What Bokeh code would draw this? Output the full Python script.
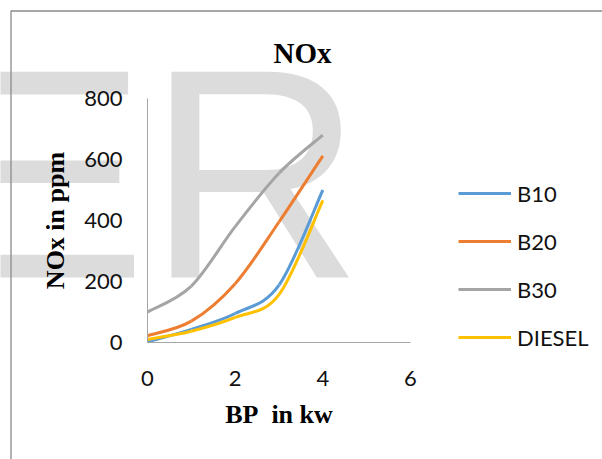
import numpy as np
from bokeh.plotting import figure
from bokeh.models import (Range1d, FixedTicker, Legend, LegendItem, Label,
                          PolyAnnotation, ColumnDataSource)
from bokeh.embed import file_html
from bokeh.resources import INLINE

# ---- data ----
bp = [0, 1, 2, 3, 4]
b10 = [2, 43, 95, 188, 500]
b20 = [22, 70, 193, 395, 612]
b30 = [100, 185, 380, 555, 680]
diesel = [10, 37, 82, 157, 466]
series_names = ["B10", "B20", "B30", "DIESEL"]
series_values = [b10, b20, b30, diesel]
colors = ["#5B9BD5", "#ED7D31", "#A5A5A5", "#FFC000"]
x_ticks = [0, 2, 4, 6]
y_ticks = [0, 200, 400, 600, 800]
x_min, x_max = 0, 6
y_min, y_max = 0, 800

# ---- layout (pixels) ----
W, H = 602, 459
PL, PR, PT, PB = 147, 410, 98, 342   # plotting area edges on the canvas
kx = (PR - PL) / (x_max - x_min)
ky = (PB - PT) / (y_max - y_min)


def smooth_segments(xs, ys, t=1.0 / 6.0):
    """Bezier segments through the data points (Excel-like smoothed line)."""
    xs = np.asarray(xs, float)
    ys = np.asarray(ys, float)
    xp = np.concatenate([[xs[0]], xs, [xs[-1]]])
    yp = np.concatenate([[ys[0]], ys, [ys[-1]]])
    d = dict(x0=[], y0=[], x1=[], y1=[], cx0=[], cy0=[], cx1=[], cy1=[])
    for i in range(len(xs) - 1):
        d["x0"].append(xp[i + 1]); d["y0"].append(yp[i + 1])
        d["x1"].append(xp[i + 2]); d["y1"].append(yp[i + 2])
        d["cx0"].append(xp[i + 1] + (xp[i + 2] - xp[i]) * t)
        d["cy0"].append(yp[i + 1] + (yp[i + 2] - yp[i]) * t)
        d["cx1"].append(xp[i + 2] - (xp[i + 3] - xp[i + 1]) * t)
        d["cy1"].append(yp[i + 2] - (yp[i + 3] - yp[i + 1]) * t)
    return ColumnDataSource(d)


p = figure(width=W, height=H, output_backend="svg", toolbar_location=None,
           x_range=Range1d(x_min - PL / kx, x_min + (W - PL) / kx),
           y_range=Range1d(y_min - (H - PB) / ky, y_max + PT / ky),
           min_border=0)
p.title.visible = False
p.background_fill_color = "white"
p.border_fill_color = "white"
p.outline_line_color = None
p.xgrid.visible = False
p.ygrid.visible = False

# watermark and outer frame line
p.add_layout(Label(x=-53, y=173, x_units="canvas", y_units="canvas", text="ER",
                   text_font="Liberation Sans", text_font_size="299px",
                   text_color="#dcdcdc", text_baseline="alphabetic",
                   text_align="left", level="underlay"))
p.add_layout(PolyAnnotation(xs=[10.5, 10.5, 700, 700], ys=[600, 10.5, 10.5, 600],
                            xs_units="canvas", ys_units="canvas",
                            fill_alpha=0, line_color="#8a8a8a", line_alpha=1.0,
                            line_width=1.3, level="overlay"))

# title
p.add_layout(Label(x=273, y=52, x_units="canvas", y_units="canvas", text="NOx",
                   text_font="Liberation Serif", text_font_style="bold",
                   text_font_size="29px", text_color="black",
                   text_baseline="alphabetic", text_align="left"))

# axes (placed at the data origin)
for ax in (p.xaxis, p.yaxis):
    ax.fixed_location = 0
    ax.axis_line_color = "#a6a6a6"
    ax.axis_line_width = 1
    ax.major_tick_line_color = None
    ax.minor_tick_line_color = None
    ax.major_label_text_font = "Lato"
    ax.major_label_text_font_size = "22px"
    ax.major_label_text_color = "#111111"
    ax.axis_label_text_font = "Liberation Serif"
    ax.axis_label_text_font_style = "bold"
    ax.axis_label_text_font_size = "26px"
    ax.axis_label_text_color = "black"
p.xaxis.bounds = (x_min, x_max)
p.yaxis.bounds = (y_min, y_max)
p.xaxis.ticker = FixedTicker(ticks=x_ticks)
p.yaxis.ticker = FixedTicker(ticks=y_ticks)
p.xaxis.axis_label = "BP\u00a0\u00a0in kw"
p.yaxis.axis_label = "NOx in ppm"
p.xaxis.major_label_standoff = 22
p.yaxis.major_label_standoff = 19
p.xaxis.axis_label_standoff = 11
p.yaxis.axis_label_standoff = 11

items = []
for name, vals, col in zip(series_names, series_values, colors):
    src = smooth_segments(bp, vals)
    r = p.bezier(x0="x0", y0="y0", x1="x1", y1="y1", cx0="cx0", cy0="cy0",
                 cx1="cx1", cy1="cy1", source=src, line_color=col, line_width=3)
    items.append(LegendItem(label=name, renderers=[r]))

legend = Legend(items=items, location=(458, H - 351), padding=0, margin=0,
                border_line_color=None, background_fill_alpha=0,
                glyph_width=53, glyph_height=28, label_height=28,
                label_standoff=6, spacing=20,
                label_text_font="Lato", label_text_font_size="22px",
                label_text_color="#111111")
p.add_layout(legend, "center")

open("out.html", "w").write(file_html(p, INLINE))
